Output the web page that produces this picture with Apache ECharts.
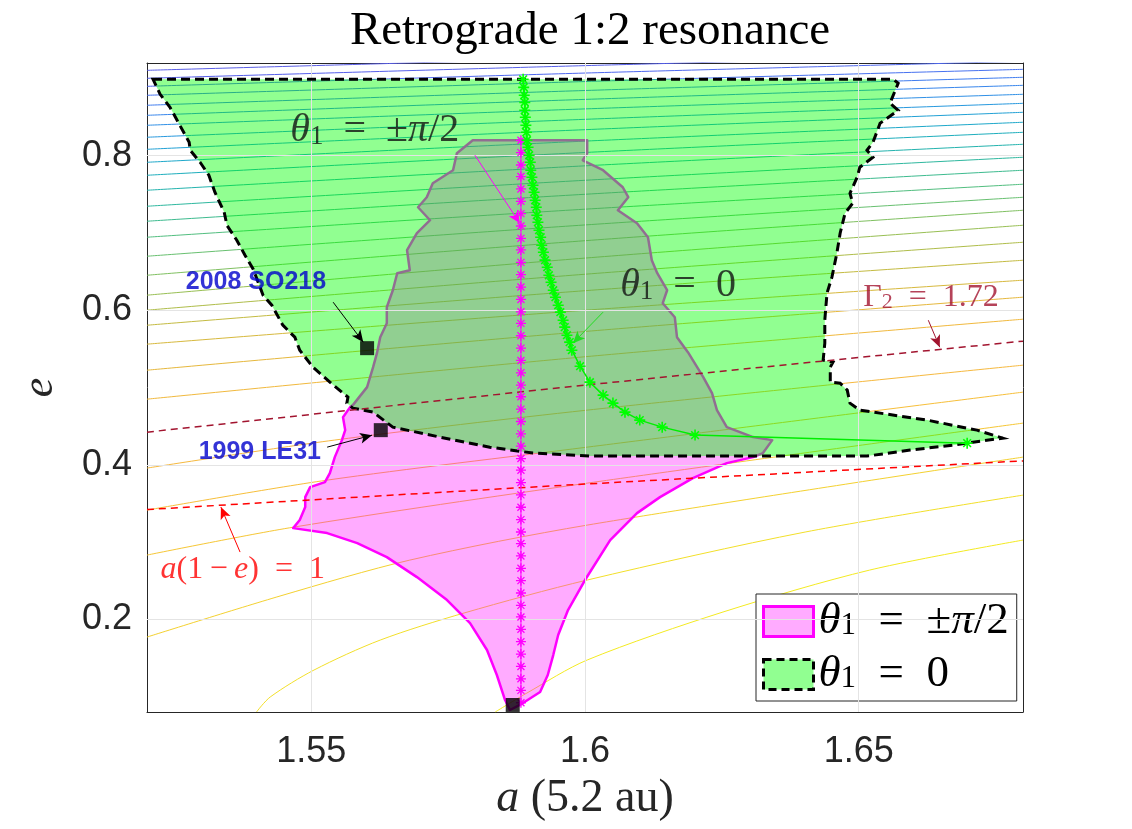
<!DOCTYPE html>
<html>
<head>
<meta charset="utf-8">
<script src="https://cdn.jsdelivr.net/npm/echarts@6/dist/echarts.min.js"></script>
<style>
    html, body { margin: 0; padding: 0; background: #fff; }
    #grafico { width: 1132px; height: 829px; }
</style>
</head>
<body>
<div id="grafico"></div>
<script>
// eixos
const aMin = 1.52, aMax = 1.68;
const eMin = 0.08, eMax = 0.92;
const aTicks = [1.55, 1.6, 1.65];
const eTicks = [0.2, 0.4, 0.6, 0.8];

// curvas de nivel (lidas nas bordas e no meio do grafico)
const contourMidA = 1.60;
const contourLeftE  = [0.9105, 0.9002, 0.8898, 0.8782, 0.8653, 0.8523, 0.8394, 0.8239, 0.8083, 0.7915, 0.7747, 0.7553, 0.7346, 0.7152, 0.6945, 0.6699, 0.6453, 0.6195, 0.6001, 0.5806, 0.5561, 0.5224, 0.4849];
const contourMidE   = [0.9263, 0.9166, 0.9070, 0.8960, 0.8844, 0.8729, 0.8606, 0.8471, 0.8337, 0.8189, 0.8042, 0.7869, 0.7682, 0.7501, 0.7308, 0.7104, 0.6900, 0.6675, 0.6466, 0.6253, 0.6000, 0.5725, 0.5398];
const contourRightE = [0.9403, 0.9312, 0.9222, 0.9118, 0.9015, 0.8911, 0.8795, 0.8678, 0.8562, 0.8433, 0.8303, 0.8148, 0.7980, 0.7812, 0.7631, 0.7462, 0.7294, 0.7100, 0.6880, 0.6647, 0.6389, 0.6169, 0.5884];

// curvas de baixo (mais curvas)
const lowerContours = [
    [[1.52, 0.3957], [1.5542, 0.4319], [1.6004, 0.4707], [1.68, 0.5289]],
    [[1.52, 0.3413], [1.5529, 0.3801], [1.6004, 0.4228], [1.68, 0.4940]],
    [[1.52, 0.2831], [1.5468, 0.3193], [1.6004, 0.3762], [1.68, 0.4539]],
    [[1.52, 0.1770], [1.5443, 0.2301], [1.5680, 0.2766], [1.6004, 0.3219], [1.68, 0.4099]],
    [[1.5400, 0.08], [1.5425, 0.0994], [1.5505, 0.1343], [1.5626, 0.1731], [1.5779, 0.2081], [1.6004, 0.2508], [1.6402, 0.3129], [1.68, 0.3607]],
    [[1.5836, 0.08], [1.5894, 0.1046], [1.6004, 0.1473], [1.6252, 0.2094], [1.6520, 0.2637], [1.68, 0.3025]]
];

// linhas tracejadas
const gamma2Line = [[1.52, 0.4422], [1.60, 0.5030], [1.68, 0.5600]];
const periLine = [[1.52, 0.342], [1.60, 0.375], [1.68, 0.405]];

// regiao theta1 = +-pi/2
const regiaoPm = [
    [1.5795, 0.8200], [1.6004, 0.8200], [1.6004, 0.8032], [1.5996, 0.7941], [1.6033, 0.7812], [1.6069, 0.7592],
    [1.6079, 0.7463], [1.6060, 0.7294], [1.6095, 0.7126], [1.6115, 0.6945], [1.6122, 0.6648], [1.6132, 0.6479],
    [1.6150, 0.6259], [1.6142, 0.6091], [1.6164, 0.5910], [1.6168, 0.5651], [1.6188, 0.5457], [1.6216, 0.5134],
    [1.6232, 0.4927], [1.6241, 0.4707], [1.6259, 0.4487], [1.6307, 0.4358], [1.6342, 0.4319], [1.6325, 0.4151],
    [1.6307, 0.4099], [1.6259, 0.4021], [1.6197, 0.3827], [1.6137, 0.3581], [1.6095, 0.3374], [1.6046, 0.3025],
    [1.6000, 0.2508], [1.5969, 0.2120], [1.5951, 0.1796], [1.5942, 0.1537], [1.5932, 0.1279], [1.5918, 0.1059],
    [1.5881, 0.0891], [1.5863, 0.0826], [1.5854, 0.0955], [1.5839, 0.1279], [1.5821, 0.1602], [1.5790, 0.1951],
    [1.5748, 0.2249], [1.5693, 0.2546], [1.5638, 0.2805], [1.5584, 0.2986], [1.5529, 0.3116], [1.5467, 0.3180],
    [1.5479, 0.3284], [1.5489, 0.3452], [1.5489, 0.3581], [1.5498, 0.3711], [1.5525, 0.3776], [1.5534, 0.3892],
    [1.5543, 0.4099], [1.5556, 0.4319], [1.5562, 0.4448], [1.5558, 0.4616], [1.5571, 0.4746], [1.5576, 0.4772],
    [1.5602, 0.5005], [1.5613, 0.5263], [1.5620, 0.5444], [1.5626, 0.5651], [1.5638, 0.5832], [1.5638, 0.6039],
    [1.5649, 0.6259], [1.5657, 0.6479], [1.5680, 0.6518], [1.5675, 0.6777], [1.5693, 0.6997], [1.5717, 0.7165],
    [1.5695, 0.7333], [1.5711, 0.7463], [1.5722, 0.7644], [1.5759, 0.7812], [1.5766, 0.8032]
];

// regiao theta1 = 0
const regiaoZero = [
    [1.5211, 0.8989], [1.6563, 0.8989], [1.6572, 0.8937], [1.6557, 0.8679], [1.6572, 0.8588], [1.6539, 0.8420],
    [1.6526, 0.8174], [1.6515, 0.8071], [1.6526, 0.7980], [1.6502, 0.7851], [1.6497, 0.7721], [1.6484, 0.7514],
    [1.6489, 0.7385], [1.6475, 0.7256], [1.6466, 0.6997], [1.6460, 0.6738], [1.6451, 0.6428], [1.6442, 0.6221],
    [1.6438, 0.5871], [1.6438, 0.5574], [1.6435, 0.5354], [1.6453, 0.5328], [1.6448, 0.5263], [1.6448, 0.5069],
    [1.6466, 0.5056], [1.6479, 0.4966], [1.6484, 0.4798], [1.6502, 0.4707], [1.6625, 0.4578], [1.6716, 0.4448],
    [1.6763, 0.4345], [1.6672, 0.4254], [1.6594, 0.4190], [1.6515, 0.4112], [1.6009, 0.4112], [1.5905, 0.4151],
    [1.5826, 0.4228], [1.5735, 0.4358], [1.5649, 0.4487], [1.5613, 0.4681], [1.5576, 0.4733], [1.5565, 0.4798],
    [1.5567, 0.4875], [1.5534, 0.5069], [1.5503, 0.5263], [1.5479, 0.5483], [1.5470, 0.5651], [1.5448, 0.5807],
    [1.5428, 0.6065], [1.5412, 0.6195], [1.5394, 0.6531], [1.5379, 0.6712], [1.5364, 0.6906], [1.5346, 0.7100],
    [1.5341, 0.7269], [1.5324, 0.7527], [1.5313, 0.7747], [1.5297, 0.7915], [1.5279, 0.8071], [1.5277, 0.8174],
    [1.5260, 0.8394], [1.5242, 0.8627], [1.5224, 0.8795]
];

// linha com estrelas magenta (theta1 = +-pi/2)
const pmStarA = 1.5883;
const pmStarE = [0.820, 0.804, 0.788, 0.773, 0.757, 0.741, 0.725, 0.709, 0.693, 0.678, 0.662, 0.646, 0.630, 0.614, 0.598, 0.583,
                 0.567, 0.551, 0.535, 0.519, 0.503, 0.488, 0.472, 0.456, 0.440, 0.424, 0.408, 0.393, 0.377, 0.361, 0.345, 0.329,
                 0.313, 0.298, 0.282, 0.266, 0.250, 0.234, 0.218, 0.203, 0.187, 0.171, 0.155, 0.139, 0.123, 0.108, 0.092];

// linha com estrelas verde (theta1 = 0)
const zeroStarA = [1.5887, 1.5888, 1.5889, 1.5890, 1.5890, 1.5891, 1.5892, 1.5893, 1.5894, 1.5896, 1.5898, 1.5900, 1.5901, 1.5903,
                   1.5905, 1.5907, 1.5909, 1.5911, 1.5912, 1.5914, 1.5916, 1.5919, 1.5921, 1.5924, 1.5927, 1.5931, 1.5934, 1.5938,
                   1.5942, 1.5946, 1.5951, 1.5955, 1.5960, 1.5963, 1.5967, 1.5972, 1.5976, 1.5991, 1.6009, 1.6033, 1.6051, 1.6073,
                   1.6100, 1.6141, 1.6201, 1.6698];
const zeroStarE = [0.8989, 0.8885, 0.8782, 0.8691, 0.8588, 0.8497, 0.8394, 0.8303, 0.8200, 0.8109, 0.8006, 0.7915, 0.7812, 0.7721,
                   0.7618, 0.7527, 0.7424, 0.7333, 0.7230, 0.7139, 0.7036, 0.6945, 0.6842, 0.6751, 0.6648, 0.6557, 0.6453, 0.6363,
                   0.6259, 0.6169, 0.6065, 0.5975, 0.5871, 0.5781, 0.5677, 0.5587, 0.5483, 0.5276, 0.5069, 0.4901, 0.4798, 0.4681,
                   0.4578, 0.4487, 0.4384, 0.4280];

// asteroides
const asteroides = [[1.5602, 0.5509], [1.5627, 0.4448], [1.5868, 0.0891]];

// cores das curvas (parula, de cima para baixo)
const coresContorno = ["#5a5ee6", "#565fea", "#4f68ee", "#4872f0", "#407cef", "#3886ec", "#3090e6", "#2899de",
                       "#22a1d5", "#1ea8ca", "#1eaebd", "#24b3ae", "#2fb89f", "#3ebb8f", "#52be7f", "#68c070",
                       "#80c061", "#98bf54", "#afbd4a", "#c4bb42", "#d7b93e", "#e6b83d", "#f1b93e"];
const coresBaixo = ["#f6b93f", "#f7bf3a", "#f6c736", "#f4d130", "#f2df2a", "#f3ea22"];

const serif = "Liberation Serif";
const sans = "Liberation Sans";
const corEixo = "#262626";
const estrela = "path://M0,-10L0,10M-10,0L10,0M-7,-7L7,7M-7,7L7,-7";

function ricoTexto(tam, cor, altura) {
    let alt = altura || tam;
    return {
        i: { fontFamily: serif, fontStyle: "italic", fontSize: tam, color: cor, lineHeight: alt },
        n: { fontFamily: serif, fontSize: tam, color: cor, lineHeight: alt },
        s: { fontFamily: serif, fontSize: Math.round(tam * 0.68), color: cor, lineHeight: Math.round(tam * 0.35), verticalAlign: "bottom" }
    };
}

function poligono(nome, pontos, estilo, z) {
    return {
        name: nome,
        type: "custom",
        coordinateSystem: "cartesian2d",
        data: [pontos[0]],
        clip: true,
        silent: true,
        z: z,
        renderItem: (params, api) => ({
            type: "polygon",
            shape: { points: pontos.map(p => api.coord(p)) },
            style: estilo
        })
    };
}

function anotacao(pos, texto, rich, z) {
    return {
        type: "scatter",
        data: [pos],
        symbolSize: 1,
        itemStyle: { color: "rgba(0,0,0,0)" },
        silent: true,
        z: z || 20,
        label: { show: true, position: "inside", formatter: texto, rich: rich }
    };
}

let series = [];

// grade
series.push({
    type: "line",
    data: [],
    silent: true,
    z: 0,
    markLine: {
        silent: true,
        symbol: ["none", "none"],
        label: { show: false },
        lineStyle: { color: "#e4e4e4", width: 1, type: "solid" },
        data: aTicks.map(v => ({ xAxis: v })).concat(eTicks.map(v => ({ yAxis: v })))
    }
});

contourLeftE.forEach((eEsq, i) => {
    series.push({
        type: "line",
        data: [[aMin, eEsq], [contourMidA, contourMidE[i]], [aMax, contourRightE[i]]],
        smooth: 0.3,
        showSymbol: false,
        silent: true,
        z: 1,
        lineStyle: { color: coresContorno[i], width: 1 }
    });
});

lowerContours.forEach((curva, i) => {
    series.push({
        type: "line",
        data: curva,
        smooth: 0.3,
        showSymbol: false,
        silent: true,
        z: 1,
        lineStyle: { color: coresBaixo[i], width: 1 }
    });
});

series.push(poligono("pm", regiaoPm, { fill: "rgba(255,0,255,0.33)", stroke: "#ff00ff", lineWidth: 2.5, lineJoin: "round" }, 3));
series.push(poligono("zero", regiaoZero, { fill: "rgba(0,255,0,0.43)", stroke: "none" }, 4));
series.push(poligono("zeroBorda", regiaoZero, { fill: "none", stroke: "#000", lineWidth: 3, lineDash: [9, 5] }, 5));

series.push({
    type: "line", data: gamma2Line, smooth: 0.3, showSymbol: false, silent: true, z: 6,
    lineStyle: { color: "#a2142f", width: 1.5, type: [7, 5] }
});
series.push({
    type: "line", data: periLine, smooth: 0.3, showSymbol: false, silent: true, z: 6,
    lineStyle: { color: "#ff0000", width: 1.5, type: [7, 5] }
});

series.push({
    type: "line",
    data: pmStarE.map(e => [pmStarA, e]),
    symbol: estrela,
    symbolSize: 10,
    showAllSymbol: true,
    silent: true,
    z: 7,
    lineStyle: { color: "#ff00ff", width: 1 },
    itemStyle: { color: "rgba(0,0,0,0)", borderColor: "#ff00ff", borderWidth: 1.3 }
});

series.push({
    type: "line",
    data: zeroStarA.map((a, i) => [a, zeroStarE[i]]),
    symbol: estrela,
    symbolSize: 11,
    showAllSymbol: true,
    silent: true,
    z: 8,
    lineStyle: { color: "#00ee00", width: 1.5 },
    itemStyle: { color: "rgba(0,0,0,0)", borderColor: "#00ff00", borderWidth: 1.6 }
});

series.push({
    type: "scatter",
    data: asteroides,
    symbol: "rect",
    symbolSize: 14,
    silent: true,
    z: 9,
    itemStyle: { color: "#000" }
});

// setas
const setas = [
    { de: [1.5799, 0.8006], para: [1.5881, 0.7126], cor: "#ff00ff" },
    { de: [1.6033, 0.5975], para: [1.5978, 0.5574], cor: "#22dd22" },
    { de: [1.6627, 0.5871], para: [1.6648, 0.5522], cor: "#a2142f" },
    { de: [1.5370, 0.2870], para: [1.5335, 0.3452], cor: "#ff0000" },
    { de: [1.5540, 0.6104], para: [1.5595, 0.5587], cor: "#000" },
    { de: [1.5529, 0.4228], para: [1.5611, 0.4383], cor: "#000" }
];
setas.forEach(s => {
    series.push({
        type: "line",
        data: [],
        silent: true,
        z: 10,
        markLine: {
            silent: true,
            symbol: ["none", "arrow"],
            symbolSize: [8, 12],
            label: { show: false },
            lineStyle: { color: s.cor, width: 1, type: "solid" },
            itemStyle: { color: s.cor },
            data: [[{ coord: s.de }, { coord: s.para }]]
        }
    });
});

// textos
const azul = { b: { fontFamily: sans, fontWeight: "bold", fontSize: 25, color: "#0000cc" } };
series.push(anotacao([1.5616, 0.8329], "{i|θ}{s|1}{n|\u2002=\u2002±}{i|π}{n|/2}", ricoTexto(40, "#111")));
series.push(anotacao([1.6170, 0.6324], "{i|θ}{s|1}{n|\u2002=\u20020}", ricoTexto(40, "#111")));
series.push(anotacao([1.6632, 0.6169], "{n|Γ}{s|2}{n|\u2002=\u20021.72}", ricoTexto(32, "#a2142f")));
series.push(anotacao([1.5375, 0.2637], "{i|a}{n|(1\u2009−\u2009}{i|e}{n|)\u2002=\u20021}", ricoTexto(32, "#ff0000")));
series.push(anotacao([1.5399, 0.6363], "{b|2008 SO218}", azul));
series.push(anotacao([1.5406, 0.4164], "{b|1999 LE31}", azul));

let eixoBase = {
    type: "value",
    axisLine: { show: true, onZero: false, lineStyle: { color: corEixo, width: 1 } },
    splitLine: { show: false }
};

let option = {
    animation: false,
    backgroundColor: "#fff",
    title: {
        text: "Retrograde 1:2 resonance",
        left: 585,
        top: 3,
        textAlign: "center",
        textStyle: { fontFamily: serif, fontWeight: "normal", fontSize: 47, color: "#000" }
    },
    grid: { left: 147, right: 109, top: 63, bottom: 117 },
    legend: {
        left: 756,
        top: 594,
        orient: "vertical",
        icon: "rect",
        itemWidth: 50,
        itemHeight: 30,
        itemGap: 8,
        padding: [5, 8, 4, 6],
        borderColor: corEixo,
        borderWidth: 1,
        backgroundColor: "#fff",
        selectedMode: false,
        data: [
            { name: "pm", itemStyle: { color: "rgba(255,0,255,0.33)", borderColor: "#ff00ff", borderWidth: 3 } },
            { name: "zero", itemStyle: { color: "rgba(0,255,0,0.43)", borderColor: "#000", borderWidth: 3, borderType: [8, 5] } }
        ],
        formatter: nome => nome === "pm" ? "{i|θ}{s|1}{n|\u2002=\u2002±}{i|π}{n|/2}" : "{i|θ}{s|1}{n|\u2002=\u20020}",
        textStyle: { rich: ricoTexto(45, "#000", 40) }
    },
    xAxis: [
        Object.assign({}, eixoBase, {
            min: aMin, max: aMax,
            position: "bottom",
            name: "{i|a}{n| (5.2 au)}",
            nameLocation: "middle",
            nameGap: 64,
            nameTextStyle: { rich: ricoTexto(46, corEixo) },
            axisTick: { show: true, inside: true, length: 8, customValues: aTicks, lineStyle: { color: corEixo } },
            axisLabel: { customValues: aTicks, margin: 22, fontFamily: sans, fontSize: 36, color: corEixo }
        }),
        Object.assign({}, eixoBase, {
            min: aMin, max: aMax,
            position: "top",
            axisTick: { show: true, inside: true, length: 8, customValues: aTicks, lineStyle: { color: corEixo } },
            axisLabel: { show: false }
        })
    ],
    yAxis: [
        Object.assign({}, eixoBase, {
            min: eMin, max: eMax,
            position: "left",
            name: "{i|e}",
            nameLocation: "middle",
            nameRotate: 90,
            nameGap: 85,
            nameTextStyle: { rich: ricoTexto(44, corEixo) },
            axisTick: { show: true, inside: true, length: 8, customValues: eTicks, lineStyle: { color: corEixo } },
            axisLabel: { customValues: eTicks, margin: 15, fontFamily: sans, fontSize: 36, color: corEixo }
        }),
        Object.assign({}, eixoBase, {
            min: eMin, max: eMax,
            position: "right",
            axisTick: { show: true, inside: true, length: 8, customValues: eTicks, lineStyle: { color: corEixo } },
            axisLabel: { show: false }
        })
    ],
    series: series
};

let grafico = echarts.init(document.getElementById("grafico"));
grafico.setOption(option);
</script>
</body>
</html>
